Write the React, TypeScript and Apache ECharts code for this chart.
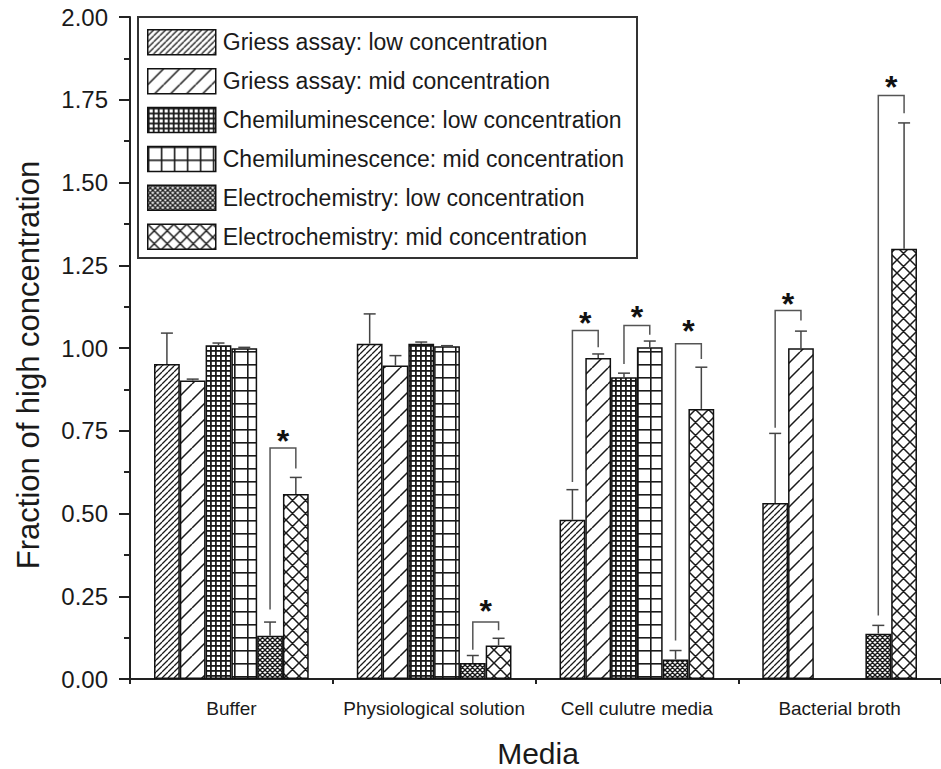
import React, { useEffect, useRef } from "react";
import * as echarts from "echarts";

const categories = ["Buffer", "Physiological solution", "Cell culutre media", "Bacterial broth"];
const seriesNames = [
  "Griess assay: low concentration",
  "Griess assay: mid concentration",
  "Chemiluminescence: low concentration",
  "Chemiluminescence: mid concentration",
  "Electrochemistry: low concentration",
  "Electrochemistry: mid concentration",
];
const griessLow = [0.952, 1.013, 0.481, 0.532];
const griessLowErr = [0.093, 0.09, 0.091, 0.21];
const griessMid = [0.902, 0.947, 0.97, 0.999];
const griessMidErr = [0.004, 0.03, 0.012, 0.052];
const chemiLow = [1.008, 1.013, 0.912, null];
const chemiLowErr = [0.007, 0.005, 0.012, null];
const chemiMid = [0.999, 1.005, 1.002, null];
const chemiMidErr = [0.003, 0.002, 0.019, null];
const electroLow = [0.131, 0.048, 0.059, 0.137];
const electroLowErr = [0.041, 0.023, 0.027, 0.025];
const electroMid = [0.559, 0.101, 0.816, 1.3];
const electroMidErr = [0.05, 0.022, 0.126, 0.38];

// significance brackets: [category, leftBar, rightBar, leftBottom, top, rightBottom, starY]
const brackets = [
  [0, 4, 5, 0.21, 0.698, 0.636, 0.74],
  [1, 4, 5, 0.088, 0.172, 0.147, 0.228],
  [2, 0, 1, 0.595, 1.053, 1.002, 1.098],
  [2, 2, 3, 0.952, 1.068, 1.04, 1.115],
  [2, 4, 5, 0.116, 1.013, 0.967, 1.073],
  [3, 0, 1, 0.759, 1.113, 1.083, 1.155],
  [3, 4, 5, 0.192, 1.763, 1.709, 1.81],
];
const yTicks = { min: 0, max: 2, interval: 0.25 };

const FONT = "'Liberation Sans', Arial, Helvetica, sans-serif";
const GAP = 0.237;
const INK = "#1a1a1a";

function makeTile(w: number, h: number, draw: (ctx: CanvasRenderingContext2D) => void) {
  const c = document.createElement("canvas");
  c.width = w;
  c.height = h;
  const ctx = c.getContext("2d")!;
  ctx.fillStyle = "#ffffff";
  ctx.fillRect(0, 0, w, h);
  ctx.strokeStyle = INK;
  ctx.fillStyle = INK;
  draw(ctx);
  return c;
}
function diag(ctx: CanvasRenderingContext2D, p: number, lw: number, fwd: boolean, back: boolean) {
  ctx.lineWidth = lw;
  ctx.beginPath();
  for (let k = -1; k <= 1; k++) {
    if (fwd) {
      ctx.moveTo(k * p, p);
      ctx.lineTo(k * p + p, 0);
    }
    if (back) {
      ctx.moveTo(k * p, 0);
      ctx.lineTo(k * p + p, p);
    }
  }
  ctx.stroke();
}
function makePatterns() {
  const t1 = makeTile(6, 6, (c) => diag(c, 6, 1.3, true, false));
  const t2 = makeTile(16, 16, (c) => diag(c, 16, 1.5, true, false));
  const t3 = makeTile(5, 5, (c) => {
    c.fillRect(0, 0, 1.8, 5);
    c.fillRect(0, 0, 5, 1.8);
  });
  const t4 = makeTile(13, 13, (c) => {
    c.fillRect(0, 0, 1.6, 13);
    c.fillRect(0, 0, 13, 1.6);
  });
  const t5 = makeTile(5, 5, (c) => diag(c, 5, 1.4, true, true));
  const t6 = makeTile(13, 13, (c) => diag(c, 13, 1.5, true, true));
  return [t1, t2, t3, t4, t5, t6].map((img) => ({ image: img, repeat: "repeat" }));
}

export default function App() {
  const ref = useRef<HTMLDivElement>(null);
  useEffect(() => {
    if (!ref.current) return;
    const chart = echarts.init(ref.current, undefined, { renderer: "svg" });
    const patterns = makePatterns();
    const vals = [griessLow, griessMid, chemiLow, chemiMid, electroLow, electroMid];
    const errs = [griessLowErr, griessMidErr, chemiLowErr, chemiMidErr, electroLowErr, electroMidErr];

    const barX = (api: any, cat: number, k: number) => {
      const cx = api.coord([cat, 0])[0];
      const bw = api.size([1, 0])[0];
      const gw = bw * (1 - GAP);
      return cx - gw / 2 + (gw / 6) * (k + 0.5);
    };

    const barSeries = seriesNames.map((name, k) => ({
      type: "bar",
      name,
      data: vals[k],
      barGap: "0%",
      barCategoryGap: GAP * 100 + "%",
      itemStyle: { color: patterns[k], borderColor: "#111", borderWidth: 1.5 },
      emphasis: { disabled: true },
      z: 2,
    }));

    const errSeries = seriesNames.map((name, k) => ({
      type: "custom",
      silent: true,
      z: 4,
      encode: { x: 0, y: 1 },
      data: vals[k]
        .map((v, i) => (v == null ? null : [i, v, errs[k][i]]))
        .filter((d) => d != null),
      renderItem: (params: any, api: any) => {
        const cat = api.value(0);
        const v = api.value(1);
        const e = api.value(2);
        const x = barX(api, cat, k);
        const y0 = api.coord([cat, v])[1];
        const y1 = api.coord([cat, v + e])[1];
        const st = { stroke: "#444", lineWidth: 1.5 };
        return {
          type: "group",
          children: [
            { type: "line", shape: { x1: x, y1: y0, x2: x, y2: y1 }, style: st },
            { type: "line", shape: { x1: x - 6, y1: y1, x2: x + 6, y2: y1 }, style: st },
          ],
        };
      },
    }));

    const bracketSeries = {
      type: "custom",
      silent: true,
      z: 5,
      encode: { x: 0, y: 4 },
      data: brackets,
      renderItem: (params: any, api: any) => {
        const cat = api.value(0);
        const xl = barX(api, cat, api.value(1));
        const xr = barX(api, cat, api.value(2));
        const yl = api.coord([cat, api.value(3)])[1];
        const yt = api.coord([cat, api.value(4)])[1];
        const yr = api.coord([cat, api.value(5)])[1];
        const ys = api.coord([cat, api.value(6)])[1];
        return {
          type: "group",
          children: [
            {
              type: "polyline",
              shape: { points: [[xl, yl], [xl, yt], [xr, yt], [xr, yr]] },
              style: { stroke: "#555", lineWidth: 1.5, fill: null },
            },
            {
              type: "text",
              x: (xl + xr) / 2,
              y: ys + 7,
              style: {
                text: "*",
                fontSize: 32,
                fontWeight: "bold",
                fontFamily: FONT,
                fill: "#111",
                align: "center",
                verticalAlign: "middle",
              },
            },
          ],
        };
      },
    };

    chart.setOption({
      animation: false,
      backgroundColor: "#ffffff",
      grid: { left: 130, top: 17, width: 818, height: 662, containLabel: false },
      legend: {
        orient: "vertical",
        left: 147,
        top: 29,
        padding: 0,
        itemWidth: 68,
        itemHeight: 25,
        itemGap: 12.4,
        icon: "rect",
        data: seriesNames,
        selectedMode: false,
        itemStyle: { borderColor: "#111", borderWidth: 1.5 },
        textStyle: { fontSize: 23, lineHeight: 25, color: INK, fontFamily: FONT, padding: [0, 0, 0, 2] },
        z: 10,
      },
      xAxis: [
        {
          type: "category",
          data: categories,
          boundaryGap: true,
          axisLine: { lineStyle: { color: "#222", width: 2 } },
          axisTick: { alignWithLabel: true, length: 10, lineStyle: { color: "#222", width: 2 } },
          axisLabel: { fontSize: 19, color: INK, fontFamily: FONT, margin: 20, interval: 0 },
          splitLine: { show: false },
        },
        {
          type: "category",
          data: categories,
          position: "bottom",
          boundaryGap: true,
          axisLine: { show: false },
          axisTick: { show: true, length: 5, lineStyle: { color: "#222", width: 2 } },
          axisLabel: { show: false },
          splitLine: { show: false },
        },
      ],
      yAxis: {
        type: "value",
        min: yTicks.min,
        max: yTicks.max,
        interval: yTicks.interval,
        axisLine: { show: true, lineStyle: { color: "#222", width: 2 } },
        axisTick: { show: true, length: 11, lineStyle: { color: "#222", width: 2 } },
        minorTick: { show: true, splitNumber: 2, length: 6, lineStyle: { color: "#222", width: 2 } },
        axisLabel: {
          fontSize: 24,
          color: INK,
          fontFamily: FONT,
          margin: 22,
          formatter: (v: number) => v.toFixed(2),
        },
        splitLine: { show: false },
      },
      graphic: [
        {
          type: "rect",
          z: 1,
          shape: { x: 138, y: 17, width: 499, height: 241 },
          style: { fill: "#ffffff", stroke: "#333", lineWidth: 2 },
        },
        {
          type: "text",
          x: 28,
          y: 365,
          rotation: Math.PI / 2,
          style: {
            text: "Fraction of high concentration",
            fontSize: 31,
            fontFamily: FONT,
            fill: INK,
            align: "center",
            verticalAlign: "middle",
          },
        },
        {
          type: "text",
          x: 538,
          y: 753,
          style: {
            text: "Media",
            fontSize: 30,
            fontFamily: FONT,
            fill: INK,
            align: "center",
            verticalAlign: "middle",
          },
        },
      ],
      series: [...barSeries, ...errSeries, bracketSeries],
    });
    return () => chart.dispose();
  }, []);
  return (
    <div
      ref={ref}
      style={{ position: "fixed", left: 0, top: 0, width: 941, height: 769, background: "#fff" }}
    />
  );
}
